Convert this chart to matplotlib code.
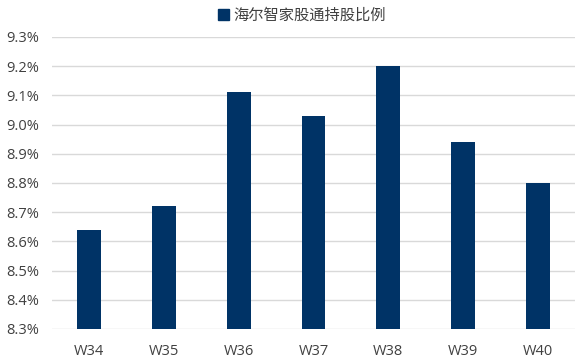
import matplotlib
matplotlib.use('Agg')
import matplotlib.pyplot as plt
from matplotlib.ticker import FuncFormatter
from matplotlib.patches import Patch

weeks = ['W34', 'W35', 'W36', 'W37', 'W38', 'W39', 'W40']
ratio = [8.64, 8.72, 9.11, 9.03, 9.20, 8.94, 8.80]
series_name = '海尔智家股通持股比例'

plt.rcParams['font.family'] = ['Open Sans', 'Noto Sans CJK SC', 'DejaVu Sans']

fig = plt.figure(figsize=(5.77, 3.6), dpi=100)
ax = fig.add_axes([52 / 577, 1 - 329 / 360, 1 - 52 / 577 - 2 / 577, (329 - 37) / 360])

bar_color = '#003366'
ax.bar(range(len(weeks)), ratio, width=0.32, color=bar_color, zorder=3)

ax.set_ylim(8.3, 9.3)
ax.set_yticks([8.3 + 0.1 * i for i in range(11)])
ax.yaxis.set_major_formatter(FuncFormatter(lambda v, p: f'{v:.1f}%'))
ax.set_xlim(-0.5, len(weeks) - 0.5)
ax.set_xticks(range(len(weeks)))
ax.set_xticklabels(weeks)
ax.grid(axis='y', color='#d9d9d9', linewidth=1, zorder=0)
for s in ax.spines.values():
    s.set_visible(False)
ax.tick_params(length=0, labelsize=10.5, colors='#404040', pad=11)
ax.tick_params(axis='y', pad=9)

fig.legend(handles=[Patch(color=bar_color, label=series_name)], loc='center',
           bbox_to_anchor=(302 / 577, 1 - 15 / 360), frameon=False,
           handlelength=0.7, handleheight=0.7, handletextpad=0.3,
           prop={'family': ['Noto Sans CJK SC'], 'size': 11}, labelcolor='#404040')

plt.savefig('out.png', dpi=100)
plt.close()
